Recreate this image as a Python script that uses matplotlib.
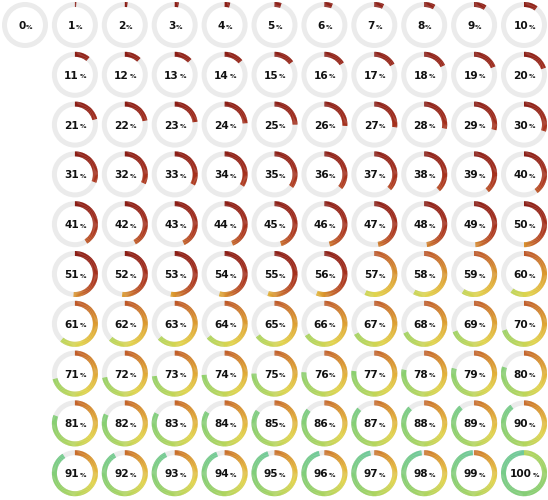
import numpy as np
import matplotlib
matplotlib.use("Agg")
import matplotlib.pyplot as plt
from matplotlib.patches import Wedge
from matplotlib.collections import PatchCollection
from matplotlib.colors import LinearSegmentedColormap

# percentages shown, 0..100
percents = list(range(0, 101))

# colour ramp used along the arcs (red -> orange -> yellow -> green)
ramp_pos = [0.00, 0.20, 0.35, 0.45, 0.52, 0.58, 0.64, 0.72, 0.82, 0.92, 1.00]
ramp_col = ["#8a1d15", "#9e2a1b", "#b03c20", "#c4632a", "#d8902d", "#e3b43b",
            "#e2d44c", "#b6d65c", "#8ed06c", "#79cc86", "#6ec99b"]
cmap = LinearSegmentedColormap.from_list("prog", list(zip(ramp_pos, ramp_col)))

track_color = "#ebebeb"
r_out, ring_w = 23.0, 5.0
dx, dy = 49.9, 49.8
x0, y0 = 25.0, 25.0


def ramp_range(p):
    # colour at the start and at the end of the arc
    if p <= 0.56:
        return 0.0, min(0.6, p * 1.05)
    if p >= 1.0:
        return 0.72, 1.0
    s = 0.41 + (p - 0.57) * 0.15
    e = min(1.0, 0.68 + (p - 0.57) * 0.8)
    return s, e


fig = plt.figure(figsize=(5.48, 5.0), dpi=100)
ax = fig.add_axes([0, 0, 1, 1])
ax.set_xlim(0, 548)
ax.set_ylim(500, 0)
ax.set_aspect("equal")
ax.axis("off")

renderer = fig.canvas.get_renderer()

tracks, arcs, arc_colors = [], [], []
for p in percents:
    if p == 0:
        col, row = 0, 0
    else:
        col, row = (p - 1) % 10 + 1, (p - 1) // 10
    cx, cy = x0 + col * dx, y0 + row * dy

    tracks.append(Wedge((cx, cy), r_out, 0, 360, width=ring_w))

    frac = p / 100.0
    if frac > 0:
        n = max(2, int(120 * frac))
        s, e = ramp_range(frac)
        edges = np.linspace(0, 360 * frac, n + 1)
        for i in range(n):
            # y axis is flipped, so clockwise from top = increasing angle from -90
            a1, a2 = -90 + edges[i], -90 + edges[i + 1] + 0.6
            if i == n - 1:
                a2 = -90 + edges[i + 1]
            arcs.append(Wedge((cx, cy), r_out, a1, a2, width=ring_w))
            t = (i + 0.5) / n
            arc_colors.append(cmap(s + (e - s) * t))

    # label: big number + small percent sign
    tn = ax.text(cx, cy, str(p), fontsize=7.6, fontweight="bold",
                 family="DejaVu Sans", color="#111111", ha="right", va="baseline")
    tp = ax.text(cx, cy, "%", fontsize=4.6, fontweight="bold",
                 family="DejaVu Sans", color="#111111", ha="left", va="baseline")
    wn = tn.get_window_extent(renderer).width
    wp = tp.get_window_extent(renderer).width
    shift = (wn - wp) / 2.0
    tn.set_position((cx + shift, cy + 4.0))
    tp.set_position((cx + shift + 0.6, cy + 3.6))

ax.add_collection(PatchCollection(tracks, facecolor=track_color, edgecolor="none"))
ax.add_collection(PatchCollection(arcs, facecolor=arc_colors, edgecolor="none"))

fig.savefig("out.png", dpi=100, facecolor="white")
